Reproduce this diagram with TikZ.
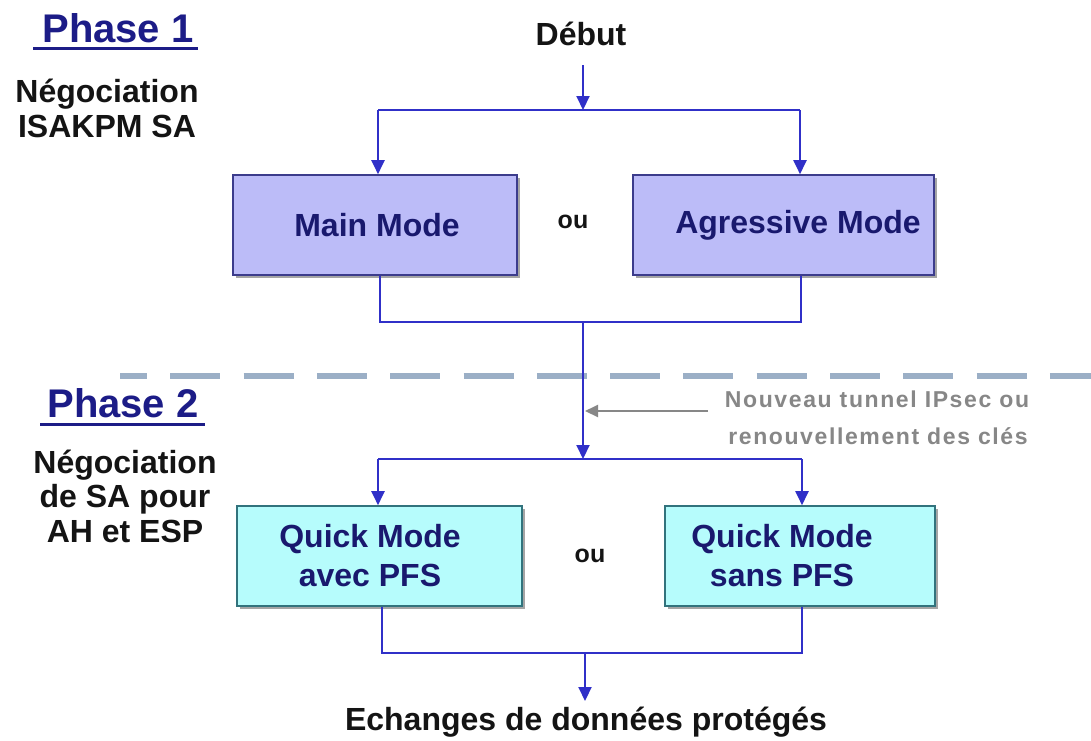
\documentclass[tikz,border=0pt]{standalone}
\usepackage{fontspec}
\setmainfont{Liberation Sans}
\usetikzlibrary{arrows.meta,shadows,calc}

\definecolor{flow}{RGB}{48,48,200}
\definecolor{lav}{RGB}{188,188,248}
\definecolor{lavedge}{RGB}{60,60,140}
\definecolor{aqua}{RGB}{182,252,252}
\definecolor{aquaedge}{RGB}{50,115,125}
\definecolor{navy}{RGB}{25,25,110}
\definecolor{head}{RGB}{28,28,135}
\definecolor{sep}{RGB}{155,175,198}
\definecolor{note}{RGB}{135,135,135}
\definecolor{ink}{RGB}{20,20,20}

\tikzset{
  modebox/.style={draw=lavedge, line width=1.6pt, fill=lav, inner sep=0pt,
    minimum height=100pt,
    drop shadow={shadow xshift=3pt, shadow yshift=-3pt, opacity=0.5, fill=black!70}},
  quickbox/.style={modebox, draw=aquaedge, fill=aqua},
  boxtext/.style={text=navy, font=\fontsize{32}{39}\selectfont\bfseries, align=center, inner sep=0pt},
  ortext/.style={text=ink, font=\fontsize{25}{28}\selectfont\bfseries, inner sep=0pt},
  plain/.style={text=ink, font=\fontsize{32}{36}\selectfont\bfseries, anchor=base, inner sep=0pt},
  phasehead/.style={text=head, font=\fontsize{40}{44}\selectfont\bfseries, anchor=base, inner sep=0pt},
  headline/.style={draw=head, line width=3pt},
  notetext/.style={text=note, anchor=base, inner sep=0pt,
    font=\fontsize{23}{26}\selectfont\bfseries\addfontfeatures{LetterSpace=7}},
  wire/.style={draw=flow, line width=2pt},
  flowarrow/.style={wire, -{Triangle[length=14pt,width=13pt]}},
  notearrow/.style={draw=note, line width=2pt, -{Triangle[length=13pt,width=12pt]}},
  sepline/.style={draw=sep, line width=6pt, dash pattern=on 50pt off 23.3pt, dash phase=23pt}
}

\begin{document}
\begin{tikzpicture}[x=1pt,y=-1pt]
  \fill[white] (0,0) rectangle (1091,740);
  \useasboundingbox (0,0) rectangle (1091,740);

  % phase separator
  \draw[sepline] (120,376) -- (1091,376);

  % left column: phase titles and descriptions
  \node[phasehead] (ph1) at (118,42) {Phase 1};
  \draw[headline] (33,48) -- (198,48);
  \node[plain] (ph1a) at (107,102) {Négociation};
  \node[plain] (ph1b) at (107,137) {ISAKPM SA};

  \node[phasehead] (ph2) at (123,417) {Phase 2};
  \draw[headline] (40,424) -- (205,424);
  \node[plain] (ph2a) at (125,473) {Négociation};
  \node[plain] (ph2b) at (125,507) {de SA pour};
  \node[plain] (ph2c) at (125,542) {AH et ESP};

  % start
  \node[plain] (debut) at (581,45) {Début};
  \coordinate (d0) at (583,65);
  \coordinate (s1) at (583,110);

  % phase 1 boxes
  \node[modebox, minimum width=284pt] (mm) at (375,225) {};
  \node[boxtext] (mmt) at (377,225) {Main Mode};
  \node[modebox, minimum width=301pt] (am) at (783.5,225) {};
  \node[boxtext] (amt) at (798,225) {Agressive Mode};
  \node[ortext] (or1) at (573,222) {ou};

  % phase 2 boxes
  \node[quickbox, minimum width=285pt] (qa) at (379.5,556) {};
  \node[boxtext] (qat) at (370,556) {Quick Mode\\avec PFS};
  \node[quickbox, minimum width=270pt] (qs) at (800,556) {};
  \node[boxtext] (qst) at (782,556) {Quick Mode\\sans PFS};
  \node[ortext] (or2) at (590,556) {ou};

  % end
  \node[plain] (fin) at (586,730) {Echanges de données protégés};

  % junction points
  \coordinate (jl) at (378,110);
  \coordinate (jr) at (800,110);
  \coordinate (ml) at (380,322);
  \coordinate (mr) at (801,322);
  \coordinate (m0) at (583,322);
  \coordinate (q0) at (583,459);
  \coordinate (ql) at (378,459);
  \coordinate (qr) at (802,459);
  \coordinate (bl) at (382,653);
  \coordinate (br) at (802,653);
  \coordinate (b0) at (585,653);
  \coordinate (e0) at (585,701);

  % phase 1 flow
  \draw[flowarrow] (d0) -- (s1);
  \draw[wire] (jl) -- (jr);
  \draw[flowarrow] (jl) -- (jl |- mm.north);
  \draw[flowarrow] (jr) -- (jr |- am.north);
  \draw[wire] (ml |- mm.south) -- (ml) -- (mr) -- (mr |- am.south);
  \draw[flowarrow] (m0) -- (q0);

  % phase 2 flow
  \draw[wire] (ql) -- (qr);
  \draw[flowarrow] (ql) -- (ql |- qa.north);
  \draw[flowarrow] (qr) -- (qr |- qs.north);
  \draw[wire] (bl |- qa.south) -- (bl) -- (br) -- (br |- qs.south);
  \draw[flowarrow] (b0) -- (e0);

  % rekeying note
  \node[notetext] (n1) at (877,407) {Nouveau tunnel IPsec ou};
  \node[notetext] (n2) at (878,444) {renouvellement des clés};
  \coordinate (na) at (708,411);
  \coordinate (nb) at (585,411);
  \draw[notearrow] (na) -- (nb);
\end{tikzpicture}
\end{document}
